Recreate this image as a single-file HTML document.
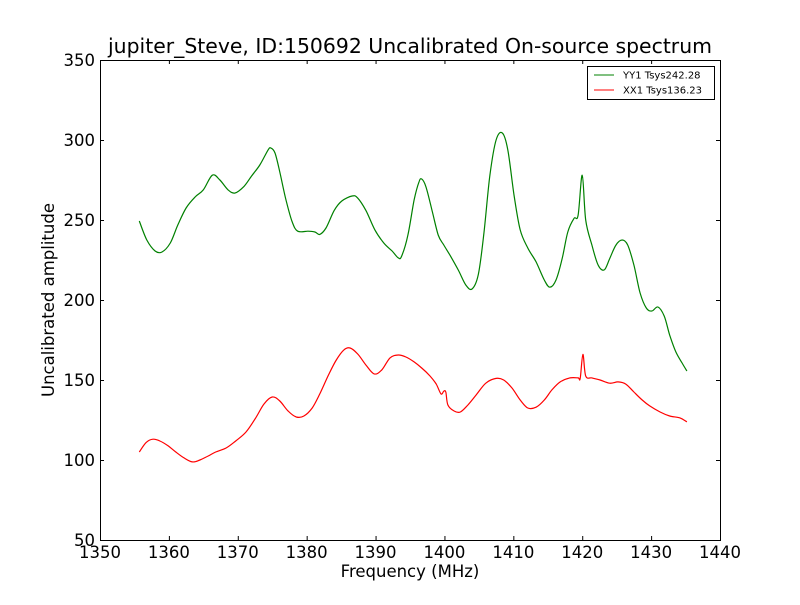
<!DOCTYPE html>
<html><head><meta charset="utf-8"><style>
body{margin:0;background:#fff;}
svg text{font-family:"DejaVu Sans","Liberation Sans",sans-serif;}
</style></head><body>
<svg id="chart" width="800" height="600" xmlns="http://www.w3.org/2000/svg">
<rect width="800" height="600" fill="#fff"/>
<text x="410" y="53" text-anchor="middle" font-size="20.4">jupiter_Steve, ID:150692 Uncalibrated On-source spectrum</text>
<g id="plot"></g>
<text x="410" y="577" text-anchor="middle" font-size="16.5">Frequency (MHz)</text>
<text transform="translate(54,300) rotate(-90)" text-anchor="middle" font-size="16.5">Uncalibrated amplitude</text>
<g>
<rect x="587.5" y="66.5" width="127" height="33" fill="#fff" stroke="#000"/>
<line x1="594" y1="75" x2="614" y2="75" stroke="green"/>
<text x="623" y="78.5" font-size="10">YY1 Tsys242.28</text>
<line x1="594" y1="90" x2="614" y2="90" stroke="red"/>
<text x="623" y="93.5" font-size="10">XX1 Tsys136.23</text>
</g>
</svg>
<script>
const xTicks=[1350,1360,1370,1380,1390,1400,1410,1420,1430,1440];
const yTicks=[50,100,150,200,250,300,350];
const yyFreq=[1355.7,1356.8,1358,1359,1360.2,1361.3,1362.5,1363.8,1365,1366.3,1367.4,1368.6,1369.6,1370.9,1372,1373.2,1374.4,1374.8,1375.4,1376.1,1377,1377.9,1378.7,1380.2,1381.2,1381.9,1382.8,1384,1385.1,1386.6,1387.4,1388.6,1389.9,1391.2,1392.4,1393.3,1393.8,1394.7,1395.6,1396.3,1396.7,1397.3,1398.2,1399.1,1399.9,1400.8,1402,1403.1,1404,1404.9,1405.7,1406.6,1407.5,1408.4,1409.2,1410.1,1411,1412.1,1413.3,1414.5,1415.3,1416.2,1417.1,1417.9,1418.8,1419.4,1420,1420.5,1421.4,1422.3,1423.2,1424,1424.9,1425.8,1426.6,1427.5,1428.4,1429.3,1430.1,1431,1431.9,1432.7,1433.6,1434.5,1435.2];
const yyVals=[249.4,237.5,230.6,230,235.6,246.9,257.5,264.4,268.8,278,275,268.8,266.9,271,277.5,284.4,293.8,295,291.9,280,262.5,248.8,243,243,242.5,241,245,256,261.9,265,263.8,256,243.8,235.6,230.6,226.3,227.5,240.6,262.5,273.8,275.6,271,256,240.6,234.4,228,218.8,209.4,206.9,215.6,240.6,278,300,304.4,293.8,265.6,243.8,232.5,223.8,212.5,208,212.5,226,242.5,251,253,278,250,234.4,221.9,218.8,226,234.4,237.5,234.4,221.9,204.4,195,193.1,195.6,190,178,167.5,160.6,155.6];
const xxFreq=[1355.7,1356.7,1357.7,1358.7,1359.9,1361,1362.2,1363.4,1364.5,1365.7,1366.8,1368.3,1369.7,1371.2,1372.6,1373.8,1375,1376.1,1377.3,1378.5,1379.6,1380.8,1381.9,1383.1,1384.3,1385.4,1386.3,1387.4,1388.6,1389.8,1390.9,1392.1,1393.3,1394.4,1395.6,1396.7,1397.9,1398.8,1399.5,1399.9,1400.2,1400.5,1401.4,1402.3,1403.4,1404.6,1406,1407.5,1408.6,1409.8,1411,1412.1,1413.3,1414.5,1415.6,1416.8,1418.2,1419.4,1419.7,1420.1,1420.5,1421.4,1422.6,1424,1425.2,1426.3,1427.5,1428.7,1429.8,1431.3,1432.7,1434.2,1435.2];
const xxVals=[105,111,113,111.9,108.8,105,101.3,98.8,100,102.5,105,107.5,111.9,117.5,126.3,135,139.4,136.9,130.6,126.9,127.5,132.5,141.3,152.5,162.5,168.8,170,166.3,159.4,153.8,156.3,163.8,165.6,164.4,161.3,157.5,152.5,147.5,141.3,143,142.5,134.4,130.6,130,134.4,140.6,148,151,150,145,137.5,132.5,133,137.5,143.8,148.8,151.3,151.3,151,166,152.5,151.3,150,148,148.8,147.5,142.5,137.5,133.8,130,127.5,126.3,123.8];
const L=100,R=720,T=60,B=540;
const xs=v=>L+(v-1350)/90*(R-L);
const ys=v=>B-(v-50)/300*(B-T);
const NS='http://www.w3.org/2000/svg';
const g=document.getElementById('plot');
function mk(t,a){const e=document.createElementNS(NS,t);for(const k in a)e.setAttribute(k,a[k]);g.appendChild(e);return e;}
function line(fr,vals,color,name){
  const P=fr.map((f,i)=>[xs(f),ys(vals[i])]);
  let d='M'+P[0][0].toFixed(1)+','+P[0][1].toFixed(1);
  for(let i=0;i<P.length-1;i++){
    const p0=P[Math.max(i-1,0)],p1=P[i],p2=P[i+1],p3=P[Math.min(i+2,P.length-1)];
    const k=1/6;
    const c1=[p1[0]+(p2[0]-p0[0])*k,p1[1]+(p2[1]-p0[1])*k];
    const c2=[p2[0]-(p3[0]-p1[0])*k,p2[1]-(p3[1]-p1[1])*k];
    d+=' C'+c1.map(n=>n.toFixed(1)).join(',')+' '+c2.map(n=>n.toFixed(1)).join(',')+' '+p2.map(n=>n.toFixed(1)).join(',');
  }
  const p=mk('path',{d:d,fill:'none',stroke:color,'stroke-width':1.2});
  
  
}
line(yyFreq,yyVals,'green','series-yy1');
line(xxFreq,xxVals,'red','series-xx1');
const frame=mk('rect',{x:L+0.5,y:T+0.5,width:R-L,height:B-T,fill:'none',stroke:'#000'});


xTicks.forEach(v=>{
  const x=xs(v)+0.5;
  mk('line',{x1:x,y1:B,x2:x,y2:B-4,stroke:'#000'});
  mk('line',{x1:x,y1:T,x2:x,y2:T+4,stroke:'#000'});
  const t=mk('text',{x:xs(v),y:B+18,'text-anchor':'middle','font-size':16.5});
  t.textContent=v;
  
  
});
yTicks.forEach(v=>{
  const y=ys(v)+0.5;
  mk('line',{x1:L,y1:y,x2:L+4,y2:y,stroke:'#000'});
  mk('line',{x1:R,y1:y,x2:R-4,y2:y,stroke:'#000'});
  const t=mk('text',{x:L-5,y:ys(v)+6,'text-anchor':'end','font-size':16.5});
  t.textContent=v;
  
  
});
</script>
</body></html>
